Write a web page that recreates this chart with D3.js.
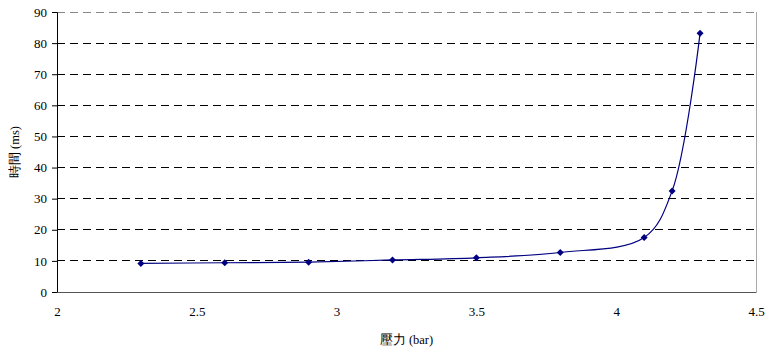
<!DOCTYPE html>
<html><head><meta charset="utf-8">
<script src="https://cdn.jsdelivr.net/npm/d3@7"></script>
<style>body{margin:0;background:#fff}svg{display:block}</style>
</head><body>
<svg id="c" width="766" height="352" font-family="Liberation Serif"></svg>
<script>
const pressure = [2.3, 2.6, 2.9, 3.2, 3.5, 3.8, 4.1, 4.2, 4.3];
const timeMs = [9.2, 9.4, 9.6, 10.3, 11.0, 12.7, 17.5, 32.5, 83.2];
const xTicks = [2, 2.5, 3, 3.5, 4, 4.5];
const yTicks = [0, 10, 20, 30, 40, 50, 60, 70, 80, 90];
const xLabel = "壓力 (bar)";
const yLabel = "時間 (ms)";

const svg = d3.select("#c");
const L = 57, R = 756, T = 12, B = 292;
const x = d3.scaleLinear().domain([2, 4.5]).range([L, R]);
const y = d3.scaleLinear().domain([0, 90]).range([B, T]);
const FF = "Liberation Serif";

// grid
svg.append("g").selectAll("line").data(yTicks.filter(d => d > 0 && d < 90)).join("line")
  .attr("x1", L).attr("x2", R).attr("y1", d => y(d)).attr("y2", d => y(d))
  .attr("stroke", "#000").attr("stroke-width", 1).attr("stroke-dasharray", "8,5")
  .attr("shape-rendering", "crispEdges");

// border
svg.append("line").attr("x1", L).attr("x2", R).attr("y1", T).attr("y2", T)
  .attr("stroke", "#888").attr("stroke-dasharray", "8,5").attr("shape-rendering", "crispEdges");
svg.append("line").attr("x1", R).attr("x2", R).attr("y1", T).attr("y2", B)
  .attr("stroke", "#aaa").attr("shape-rendering", "crispEdges");

// y axis
const ya = svg.append("g").attr("transform", `translate(${L},0)`)
  .call(d3.axisLeft(y).tickValues(yTicks).tickSize(5).tickPadding(5).tickFormat(d3.format("d")));
ya.attr("font-family", FF).attr("font-size", 13);
ya.select(".domain").attr("stroke", "#000");
ya.selectAll("text").style("font-family", FF).attr("fill", "#000");

// x axis
const xa = svg.append("g").attr("transform", `translate(0,${B})`)
  .call(d3.axisBottom(x).tickValues(xTicks).tickSize(0).tickPadding(15).tickFormat(d => String(d)));
xa.attr("font-family", FF).attr("font-size", 13);
xa.select(".domain").attr("stroke", "#555");
xa.selectAll("text").style("font-family", FF).attr("fill", "#000");

// labels
svg.append("text").attr("x", x(3.25)).attr("y", 344).attr("text-anchor", "middle")
  .style("font-family", FF).attr("font-size", 12.5).text(xLabel);
svg.append("text").attr("transform", `translate(19,${(T + B) / 2}) rotate(-90)`)
  .attr("text-anchor", "middle").style("font-family", FF).attr("font-size", 12.5).text(yLabel);

// line
const data = pressure.map((p, i) => [p, timeMs[i]]);
svg.append("path").datum(data)
  .attr("d", d3.line().x(d => x(d[0])).y(d => y(d[1])).curve(d3.curveCatmullRom.alpha(0.5)))
  .attr("fill", "none").attr("stroke", "#000080").attr("stroke-width", 1.2);

// markers
svg.append("g").selectAll("path").data(data).join("path")
  .attr("transform", d => `translate(${x(d[0])},${y(d[1])})`)
  .attr("d", "M0,-3.5L3.5,0L0,3.5L-3.5,0Z").attr("fill", "#000080");
</script>
</body></html>
